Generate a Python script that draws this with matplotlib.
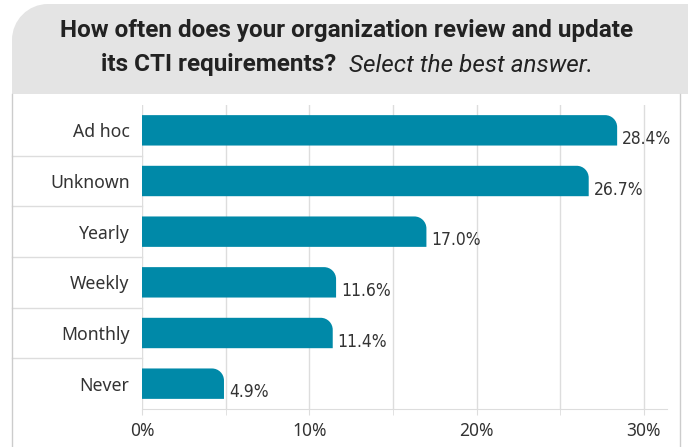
import matplotlib
matplotlib.use("Agg")
from matplotlib import pyplot as plt
from matplotlib.path import Path
from matplotlib.patches import PathPatch
from matplotlib.lines import Line2D

categories = ["Ad hoc", "Unknown", "Yearly", "Weekly", "Monthly", "Never"]
values = [28.4, 26.7, 17.0, 11.6, 11.4, 4.9]
x_ticks = [0, 10, 20, 30]
x_tick_labels = ["0%", "10%", "20%", "30%"]

W, H = 688, 447
BAR = "#0089A8"
TXT = "#333333"
GRID = "#DDDDDD"
k = 0.5523

fig = plt.figure(figsize=(W / 100, H / 100), dpi=100)
fig.patch.set_facecolor("white")

# header box, only the top-left corner rounded (pixel coords -> figure fraction)
hl, ht, hb, hr, rr = 12, 4, 94, 700, 36
pts = [(hl, hb), (hl, ht + rr), (hl, ht + rr * (1 - k)), (hl + rr * (1 - k), ht),
       (hl + rr, ht), (hr, ht), (hr, hb), (hl, hb)]
pts = [(x / W, 1 - y / H) for x, y in pts]
hcodes = [Path.MOVETO, Path.LINETO, Path.CURVE4, Path.CURVE4, Path.CURVE4,
          Path.LINETO, Path.LINETO, Path.CLOSEPOLY]
fig.patches.append(PathPatch(Path(pts, hcodes), transform=fig.transFigure,
                             facecolor="#E4E4E4", edgecolor="none", zorder=-2))
for xb in (12, 680):
    fig.lines.append(Line2D([xb / W, xb / W], [0, 1 - hb / H], transform=fig.transFigure,
                            color="#CCCCCC", lw=1))

# title
TFS = 17.5
fig.text(347 / W, 1 - 31 / H, "How often does your organization review and update",
         ha="center", va="center", fontsize=TFS, fontweight="bold",
         family="Roboto", color="#222222")
t1 = fig.text(0, 1 - 65 / H, "its CTI requirements?  ", ha="left", va="center",
              fontsize=TFS, fontweight="bold", family="Roboto", color="#222222")
t2 = fig.text(0, 1 - 65 / H, "Select the best answer.", ha="left", va="center",
              fontsize=TFS, fontstyle="italic", family="Roboto", color="#222222")
r = fig.canvas.get_renderer()
w1 = t1.get_window_extent(r).width
w2 = t2.get_window_extent(r).width
x0 = 347 - (w1 + w2) / 2
t1.set_x(x0 / W)
t2.set_x((x0 + w1) / W)

# plot area
left, right, top, bottom = 142, 667, 105, 409
ax = fig.add_axes([left / W, 1 - bottom / H, (right - left) / W, (bottom - top) / H])
xmax = 31.38
n = len(categories)
ax.set_xlim(0, xmax)
ax.set_ylim(n - 0.5, -0.5)

ax.set_xticks(x_ticks)
ax.set_xticklabels(x_tick_labels, fontsize=12.5, color=TXT, family="Noto Sans")
ax.set_xticks([5, 15, 25], minor=True)
ax.tick_params(axis="x", which="both", length=4, color=GRID, pad=5)
ax.set_yticks(range(n))
ax.set_yticklabels(categories, fontsize=12.7, color=TXT, family="Noto Sans")
ax.tick_params(axis="y", length=0, pad=9)
ax.grid(axis="x", which="both", color=GRID, lw=1)
ax.set_axisbelow(True)
for s in ("top", "right", "left"):
    ax.spines[s].set_visible(False)
ax.spines["bottom"].set_color(GRID)

# row separators reaching into the label column
for i in range(1, n):
    ax.axhline(i - 0.5, xmin=(12 - left) / (right - left), xmax=0,
               color=GRID, lw=1, clip_on=False)

px_x = (right - left) / xmax
px_y = (bottom - top) / n
rad = 12
bh = 0.6
for i, v in enumerate(values):
    rx = min(rad / px_x, v)
    ry = rad / px_y
    y0, y1 = i + bh / 2, i - bh / 2  # bottom, top (inverted axis)
    verts = [(0, y0), (v, y0), (v, y1 + ry),
             (v, y1 + ry * (1 - k)), (v - rx * (1 - k), y1), (v - rx, y1),
             (0, y1), (0, y0)]
    codes = [Path.MOVETO, Path.LINETO, Path.LINETO,
             Path.CURVE4, Path.CURVE4, Path.CURVE4,
             Path.LINETO, Path.CLOSEPOLY]
    ax.add_patch(PathPatch(Path(verts, codes), facecolor=BAR, edgecolor="none", zorder=3))
    ax.text(v + 5 / px_x, i + 0.17, f"{v:.1f}%", ha="left", va="center",
            fontsize=12.5, color=TXT, fontstretch="condensed",
            family=["Liberation Sans Narrow", "DejaVu Sans"])

fig.savefig("out.png", dpi=100)
